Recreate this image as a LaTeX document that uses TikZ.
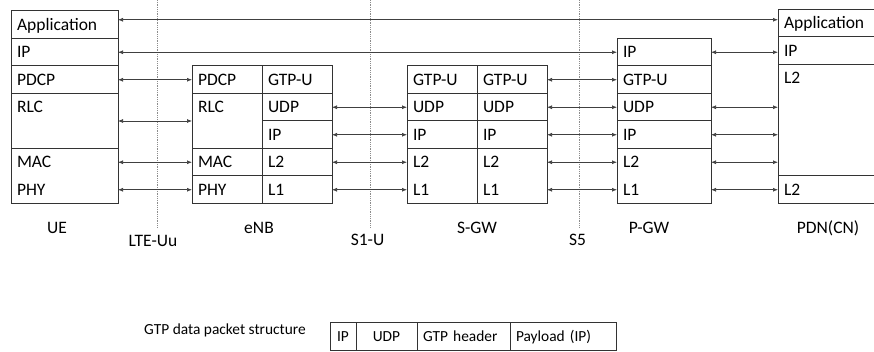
\documentclass[tikz,border=0pt]{standalone}
\usepackage{fontspec}
\setmainfont{Carlito}
\usetikzlibrary{positioning,arrows.meta}

\newcommand{\layerfont}{\fontsize{17.5pt}{20pt}\selectfont}
\newcommand{\pktfont}{\fontsize{15.4pt}{18pt}\selectfont}

\tikzset{
  cell/.style={rectangle,draw=black!80,line width=1pt,outer sep=0pt,inner xsep=6pt,inner ysep=0pt,
    minimum height=27.5pt,text width=#1,align=left,text height=11.3pt,text depth=0pt,font=\layerfont},
  cell/.default=58pt,
  pkt/.style={cell=#1,minimum height=28pt,font=\pktfont,text height=10pt},
  lab/.style={font=\layerfont,inner sep=0pt,text height=11.3pt,text depth=0pt},
  link/.style={<->,draw=black!75,line width=0.7pt},
  iface/.style={densely dotted,draw=black!45,line width=0.8pt},
}

\begin{document}
\begin{tikzpicture}[x=1pt,y=-1pt,>={Latex[length=5pt,width=4pt]}]

      \useasboundingbox (0,0) rectangle (874,352);
      \clip (0,0) rectangle (874,352);

      % UE
      \node[cell=95pt] (ue-app) at (64.5,24.75){Application};
      \node[cell=95pt] (ue-ip) at (64.5,52.25){IP};
      \node[cell=95pt] (ue-pdcp) at (64.5,79.75){PDCP};
      \node[cell=95pt,minimum height=55pt] (ue-rlc) at (64.5,121){};
      \node[cell=95pt,draw=none,anchor=north] (ue-rlct) at (ue-rlc.north){RLC};
      \node[cell=95pt,minimum height=55pt] (ue-low) at (64.5,176){};
      \node[cell=95pt,draw=none,anchor=north] (ue-mac) at (ue-low.north){MAC};
      \node[cell=95pt,draw=none,anchor=south] (ue-phy) at (ue-low.south){PHY};
      \node[lab] (ue) at (57,228){UE};

      % eNB
      \node[cell] (enb-pdcp) at (227,79.75){PDCP};
      \node[cell,minimum height=55pt] (enb-rlc) at (227,121){};
      \node[cell,draw=none,anchor=north] (enb-rlct) at (enb-rlc.north){RLC};
      \node[cell] (enb-mac) at (227,162.25){MAC};
      \node[cell] (enb-phy) at (227,189.75){PHY};
      \node[cell] (enb-gtp) at (297,79.75){GTP-U};
      \node[cell] (enb-udp) at (297,107.25){UDP};
      \node[cell] (enb-ip) at (297,134.75){IP};
      \node[cell] (enb-l2) at (297,162.25){L2};
      \node[cell] (enb-l1) at (297,189.75){L1};
      \node[lab] (enb) at (259,228){eNB};

      % S-GW
      \node[cell] (sgw-gtp) at (442,79.75){GTP-U};
      \node[cell] (sgw-udp) at (442,107.25){UDP};
      \node[cell] (sgw-ip) at (442,134.75){IP};
      \node[cell,minimum height=55pt] (sgw-low) at (442,176){};
      \node[cell,draw=none,anchor=north] (sgw-l2) at (sgw-low.north){L2};
      \node[cell,draw=none,anchor=south] (sgw-l1) at (sgw-low.south){L1};
      \node[cell] (sgw-gtpb) at (512,79.75){GTP-U};
      \node[cell] (sgw-udpb) at (512,107.25){UDP};
      \node[cell] (sgw-ipb) at (512,134.75){IP};
      \node[cell,minimum height=55pt] (sgw-lowb) at (512,176){};
      \node[cell,draw=none,anchor=north] (sgw-l2b) at (sgw-lowb.north){L2};
      \node[cell,draw=none,anchor=south] (sgw-l1b) at (sgw-lowb.south){L1};
      \node[lab] (sgw) at (477,228){S-GW};

      % P-GW
      \node[cell=82pt] (pgw-ip) at (664,52.25){IP};
      \node[cell=82pt] (pgw-gtp) at (664,79.75){GTP-U};
      \node[cell=82pt] (pgw-udp) at (664,107.25){UDP};
      \node[cell=82pt] (pgw-ipb) at (664,134.75){IP};
      \node[cell=82pt,minimum height=55pt] (pgw-low) at (664,176){};
      \node[cell=82pt,draw=none,anchor=north] (pgw-l2) at (pgw-low.north){L2};
      \node[cell=82pt,draw=none,anchor=south] (pgw-l1) at (pgw-low.south){L1};
      \node[lab] (pgw) at (649,228){P-GW};

      % PDN
      \node[cell=98pt] (pdn-app) at (833,23.25){Application};
      \node[cell=98pt] (pdn-ip) at (833,50.75){IP};
      \node[cell=98pt,minimum height=111.5pt] (pdn-mid) at (833,120.25){};
      \node[cell=98pt,draw=none,anchor=north] (pdn-l2t) at (pdn-mid.north){L2};
      \node[cell=98pt] (pdn-l2) at (833,189.75){L2};
      \node[lab] (pdn) at (828,228){PDN(CN)};

      % interfaces
      \node[lab] (uu) at (153,241){LTE-Uu};
      \node[lab] (s1u) at (367.5,240){S1-U};
      \node[lab] (s5) at (577.5,240){S5};
      \draw[iface] (157,0) -- (157,227);
      \draw[iface] (370,0) -- (370,227);
      \draw[iface] (579,0) -- (579,227);

      \draw[link] ([yshift=5pt]ue-app.east) -- ([yshift=5pt]ue-app.east -| pdn-app.west);
      \draw[link] (ue-ip.east) -- (pgw-ip.west);
      \draw[link] (pgw-ip.east) -- (pgw-ip.east -| pdn-ip.west);

      \draw[link] (ue-pdcp.east) -- (enb-pdcp.west);
      \draw[link] (ue-rlc.east) -- (enb-rlc.west);
      \draw[link] (ue-mac.east) -- (enb-mac.west);
      \draw[link] (ue-phy.east) -- (enb-phy.west);

      \draw[link] (enb-udp.east) -- (sgw-udp.west);
      \draw[link] (enb-ip.east) -- (sgw-ip.west);
      \draw[link] (enb-l2.east) -- (sgw-l2.west);
      \draw[link] (enb-l1.east) -- (sgw-l1.west);

      \draw[link] (sgw-gtpb.east) -- (pgw-gtp.west);
      \draw[link] (sgw-udpb.east) -- (pgw-udp.west);
      \draw[link] (sgw-ipb.east) -- (pgw-ipb.west);
      \draw[link] (sgw-l2b.east) -- (pgw-l2.west);
      \draw[link] (sgw-l1b.east) -- (pgw-l1.west);

      \draw[link] (pgw-udp.east) -- (pgw-udp.east -| pdn-mid.west);
      \draw[link] (pgw-ipb.east) -- (pgw-ipb.east -| pdn-mid.west);
      \draw[link] (pgw-l2.east) -- (pgw-l2.east -| pdn-mid.west);
      \draw[link] (pgw-l1.east) -- (pgw-l1.east -| pdn-l2.west);

      % packet
      \node[lab,font=\pktfont,text height=10pt,anchor=west] (pkt) at (144,329){GTP data packet structure};
      \node[pkt=14pt,align=center] (pkt-ip) at (343,336){IP};
      \node[pkt=49pt,align=center,right=0pt of pkt-ip] (pkt-udp){UDP};
      \node[pkt=81pt,right=0pt of pkt-udp] (pkt-gtp){GTP header};
      \node[pkt=94pt,right=0pt of pkt-gtp] (pkt-pay){Payload (IP)};

    \end{tikzpicture}
\end{document}
